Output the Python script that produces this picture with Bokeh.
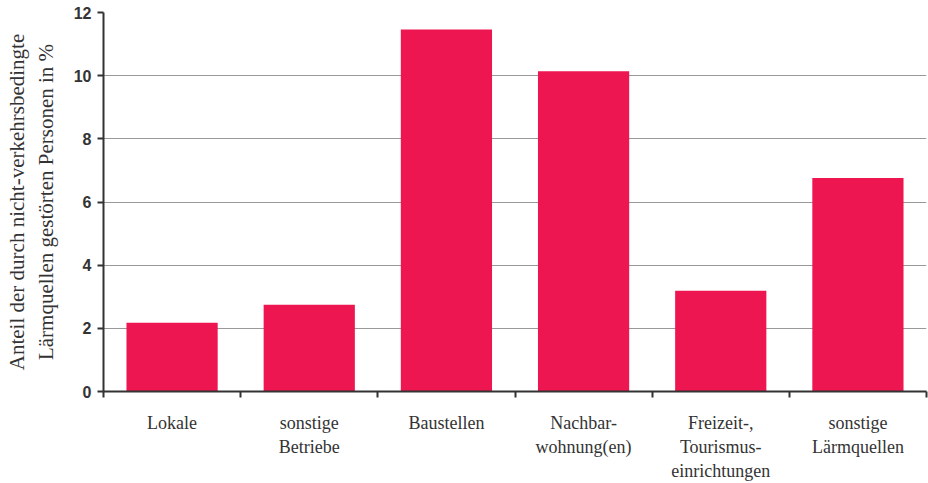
from bokeh.plotting import figure
from bokeh.models import FixedTicker, Range1d, ColumnDataSource
from bokeh.embed import file_html
from bokeh.resources import INLINE

categories = ["Lokale", "sonstige\nBetriebe", "Baustellen", "Nachbar-\nwohnung(en)",
              "Freizeit-,\nTourismus-\neinrichtungen", "sonstige\nLärmquellen"]
values = [2.18, 2.75, 11.46, 10.14, 3.19, 6.76]
y_ticks = [0, 2, 4, 6, 8, 10, 12]

xs = [i + 0.5 for i in range(len(categories))]
src = ColumnDataSource(dict(x=xs, top=values))

p = figure(width=928, height=483, output_backend="svg", toolbar_location=None,
           x_range=Range1d(0, 6), y_range=Range1d(0, 12),
           min_border_left=103, min_border_right=2, min_border_top=12, min_border_bottom=91)
p.outline_line_color = None
p.background_fill_color = "white"
p.border_fill_color = "white"

p.vbar(x="x", top="top", width=0.665, bottom=0, source=src, color="#ED1651", line_color=None)

# x axis
xa = p.xaxis[0]
xa.ticker = FixedTicker(ticks=xs, minor_ticks=list(range(7)))
xa.major_label_overrides = {x: c for x, c in zip(xs, categories)}
xa.major_tick_out = 0
xa.major_tick_in = 0
xa.minor_tick_out = 6
xa.minor_tick_in = 0
xa.minor_tick_line_color = "#333333"
xa.minor_tick_line_width = 2
xa.axis_line_color = "#333333"
xa.axis_line_width = 2
xa.major_label_text_font = "Liberation Serif"
xa.major_label_text_font_size = "18px"
xa.major_label_text_color = "#333333"
xa.major_label_standoff = 15

# y axis
ya = p.yaxis[0]
ya.ticker = FixedTicker(ticks=y_ticks)
ya.minor_tick_line_color = None
ya.major_tick_out = 6
ya.major_tick_in = 0
ya.major_tick_line_color = "#333333"
ya.major_tick_line_width = 2
ya.axis_line_color = "#333333"
ya.axis_line_width = 2
ya.major_label_text_font = "Liberation Sans"
ya.major_label_text_font_style = "bold"
ya.major_label_text_font_size = "16px"
ya.major_label_text_color = "#333333"
ya.major_label_standoff = 6
ya.axis_label = "Anteil der durch nicht-verkehrsbedingte\nLärmquellen gestörten Personen in %"
ya.axis_label_text_font = "Liberation Serif"
ya.axis_label_text_font_size = "21px"
ya.axis_label_text_font_style = "normal"
ya.axis_label_text_color = "#333333"
ya.axis_label_standoff = 13

p.xgrid.grid_line_color = None
p.ygrid.ticker = FixedTicker(ticks=y_ticks)
p.ygrid.grid_line_color = "#999999"
p.ygrid.grid_line_width = 1

open("out.html", "w").write(file_html(p, INLINE))
